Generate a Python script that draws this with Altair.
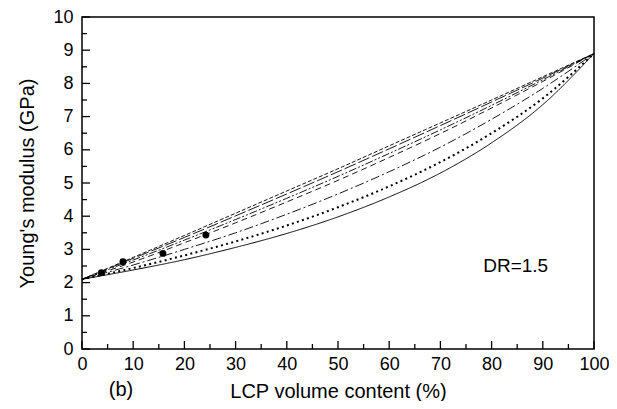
import altair as alt
import pandas as pd

# ---- data ----
x_pct = [0, 10, 20, 30, 40, 50, 60, 70, 80, 90, 100]

solid   = [2.1, 2.38, 2.69, 3.06, 3.48, 3.98, 4.58, 5.30, 6.21, 7.36, 8.9]
dotted  = [2.1, 2.44, 2.82, 3.24, 3.72, 4.27, 4.90, 5.63, 6.50, 7.55, 8.9]
dashdot = [2.1, 2.53, 3.00, 3.50, 4.06, 4.67, 5.34, 6.08, 6.92, 7.85, 8.9]
dashed  = [2.1, 2.62, 3.20, 3.80, 4.43, 5.08, 5.77, 6.49, 7.26, 8.06, 8.9]
top1    = [2.1, 2.68, 3.28, 3.90, 4.54, 5.20, 5.89, 6.60, 7.34, 8.11, 8.9]
top2    = [2.1, 2.73, 3.36, 4.01, 4.67, 5.34, 6.03, 6.73, 7.44, 8.16, 8.9]
top3    = [2.1, 2.76, 3.42, 4.09, 4.76, 5.43, 6.12, 6.81, 7.50, 8.20, 8.9]

exp_x = [3.8, 8.0, 15.8, 24.2]
exp_y = [2.30, 2.63, 2.88, 3.43]

x_tick_labels = list(range(0, 101, 10))
y_tick_labels = list(range(0, 11, 1))
x_minor = [v for v in range(5, 100, 10)]
y_minor = [v + 0.5 for v in range(0, 10)]

FONT = "Liberation Sans"
W, H = 512, 332

xs = alt.Scale(domain=[0, 100], nice=False, zero=False)
ys = alt.Scale(domain=[0, 10], nice=False, zero=False)

xaxis = alt.Axis(values=x_tick_labels, ticks=False, domain=False, grid=False,
                 labelFontSize=18, labelFont=FONT, labelColor="black",
                 labelPadding=6, labelFlush=False,
                 titleFontSize=20, titleFont=FONT, titleColor="black",
                 titleFontWeight="normal", titlePadding=8)
yaxis = alt.Axis(values=y_tick_labels, ticks=False, domain=False, grid=False,
                 labelFontSize=18, labelFont=FONT, labelColor="black",
                 labelPadding=9, labelFlush=False,
                 titleFontSize=20, titleFont=FONT, titleColor="black",
                 titleFontWeight="normal", titlePadding=15)

X = alt.X("x:Q", scale=xs, axis=xaxis, title="LCP volume content (%)")
Y = alt.Y("y:Q", scale=ys, axis=yaxis, title="Young's modulus (GPa)")

styles = [
    ("solid", solid, [1, 0], 1.0),
    ("dotted", dotted, [2, 3.3], 2.0),
    ("dashdot", dashdot, [9, 3, 2, 3], 0.9),
    ("dashed", dashed, [6, 4], 0.9),
    ("top1", top1, [8, 2, 2, 2, 2, 2], 0.9),
    ("top2", top2, [12, 3], 0.9),
    ("top3", top3, [4, 2], 0.9),
]

layers = []
for name, vals, dash, w in styles:
    df = pd.DataFrame({"x": x_pct, "y": vals})
    mk = alt.Chart(df).mark_line(color="black", strokeWidth=w,
                                 strokeDash=dash, interpolate="monotone")
    layers.append(mk.encode(x=X, y=Y))

pts = pd.DataFrame({"x": exp_x, "y": exp_y})
layers.append(alt.Chart(pts).mark_circle(color="black", opacity=1, size=48)
              .encode(x=X, y=Y))

# inward ticks on bottom and left axes
xmaj = pd.DataFrame({"x": x_tick_labels})
xmin = pd.DataFrame({"x": x_minor})
ymaj = pd.DataFrame({"y": y_tick_labels})
ymin = pd.DataFrame({"y": y_minor})
layers.append(alt.Chart(xmaj).mark_rule(color="black", strokeWidth=1.3)
              .encode(x=X, y=alt.value(H), y2=alt.value(H - 8)))
layers.append(alt.Chart(xmin).mark_rule(color="black", strokeWidth=1.3)
              .encode(x=X, y=alt.value(H), y2=alt.value(H - 5)))
layers.append(alt.Chart(ymaj).mark_rule(color="black", strokeWidth=1.3)
              .encode(y=Y, x=alt.value(0), x2=alt.value(8)))
layers.append(alt.Chart(ymin).mark_rule(color="black", strokeWidth=1.3)
              .encode(y=Y, x=alt.value(0), x2=alt.value(5)))

# annotations
dr = pd.DataFrame({"x": [84.7], "y": [2.5], "t": ["DR=1.5"]})
layers.append(alt.Chart(dr).mark_text(font=FONT, fontSize=19, color="black",
                                      baseline="middle", align="center")
              .encode(x=X, y=Y, text="t:N"))
lab = pd.DataFrame({"t": ["(b)"]})
layers.append(alt.Chart(lab).mark_text(font=FONT, fontSize=20, color="black",
                                       baseline="middle", align="center")
              .encode(x=alt.value(39), y=alt.value(373), text="t:N"))

chart = alt.layer(*layers).properties(
    width=W, height=H,
    autosize=alt.AutoSizeParams(type="none"),
    padding={"left": 74, "top": 9, "right": 15, "bottom": 52},
).configure(font=FONT).configure_view(stroke="black", strokeWidth=1.5)

chart.save("out.html", embed_options={"renderer": "svg", "actions": False})
